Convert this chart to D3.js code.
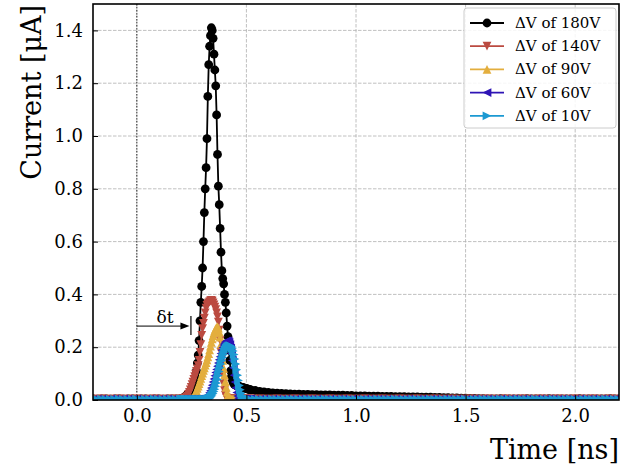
<!DOCTYPE html>
<html>
<head>
<meta charset="utf-8">
<script src="https://cdn.jsdelivr.net/npm/d3@7"></script>
<style>
body { margin: 0; background: #fff; }
text { font-family: "DejaVu Serif", serif; fill: #000; }
</style>
</head>
<body>
<div id="chart"></div>
<script>
// sample times [ns]: coarse baseline, fine around the pulse, coarse tail
var timeNs = [-0.20,-0.18,-0.16,-0.14,-0.12,-0.10,-0.08,-0.06,-0.04,-0.02,
	0.00,0.02,0.04,0.06,0.08,0.10,0.12,0.14,0.16,0.18,
	0.200,0.204,0.208,0.212,0.216,0.220,0.224,0.228,0.232,0.236,
	0.240,0.244,0.248,0.252,0.256,0.260,0.264,0.268,0.272,0.276,
	0.280,0.284,0.288,0.292,0.296,0.300,0.304,0.308,0.312,0.316,
	0.320,0.324,0.328,0.332,0.336,0.340,0.344,0.348,0.352,0.356,
	0.360,0.364,0.368,0.372,0.376,0.380,0.384,0.388,0.392,0.396,
	0.400,0.404,0.408,0.412,0.416,0.420,0.424,0.428,0.432,0.436,
	0.440,0.444,0.448,0.452,0.456,0.460,0.464,0.468,0.472,0.476,
	0.480,0.484,0.488,0.492,0.496,0.500,0.504,0.508,0.512,0.516,
	0.520,
	0.54,0.56,0.58,0.60,0.62,0.64,0.66,0.68,0.70,0.72,
	0.74,0.76,0.78,0.80,0.82,0.84,0.86,0.88,0.90,0.92,
	0.94,0.96,0.98,1.00,1.02,1.04,1.06,1.08,1.10,1.12,
	1.14,1.16,1.18,1.20,1.22,1.24,1.26,1.28,1.30,1.32,
	1.34,1.36,1.38,1.40,1.42,1.44,1.46,1.48,1.50,1.52,
	1.54,1.56,1.58,1.60,1.62,1.64,1.66,1.68,1.70,1.72,
	1.74,1.76,1.78,1.80,1.82,1.84,1.86,1.88,1.90,1.92,
	1.94,1.96,1.98,2.00,2.02,2.04,2.06,2.08,2.10,2.12,
	2.14,2.16,2.18,2.20];

// current [uA] for each bias
var i180 = [0.004,0.003,0.004,0.004,0.003,0.004,0.004,0.003,0.004,0.004,
	0.003,0.004,0.004,0.003,0.004,0.004,0.003,0.004,0.004,0.004,
	0.004,0.005,0.006,0.008,0.010,0.012,0.015,0.018,0.022,0.026,
	0.030,0.034,0.038,0.045,0.052,0.060,0.070,0.085,0.110,0.140,
	0.170,0.225,0.300,0.370,0.430,0.50,0.60,0.71,0.80,0.88,
	0.99,1.15,1.27,1.34,1.38,1.41,1.40,1.37,1.31,1.25,
	1.19,1.08,0.93,0.81,0.74,0.65,0.56,0.49,0.46,0.44,
	0.40,0.37,0.33,0.28,0.24,0.19,0.15,0.11,0.090,0.075,
	0.066,0.060,0.057,0.055,0.054,0.053,0.052,0.051,0.050,0.049,
	0.048,0.047,0.046,0.045,0.044,0.043,0.042,0.041,0.040,0.039,
	0.038,
	0.036,0.033,0.031,0.029,0.027,0.026,0.025,0.024,0.023,0.022,
	0.022,0.021,0.021,0.020,0.020,0.019,0.019,0.019,0.018,0.018,
	0.018,0.017,0.017,0.016,0.016,0.016,0.015,0.015,0.015,0.014,
	0.014,0.014,0.013,0.013,0.013,0.012,0.012,0.012,0.011,0.011,
	0.011,0.010,0.010,0.009,0.009,0.008,0.008,0.007,0.007,0.006,
	0.006,0.005,0.005,0.004,0.004,0.004,0.005,0.004,0.004,0.004,
	0.004,0.004,0.005,0.004,0.004,0.004,0.004,0.005,0.004,0.004,
	0.004,0.004,0.004,0.004,0.005,0.004,0.004,0.004,0.004,0.004,
	0.004,0.005,0.004,0.004];

var i140 = [0.003,0.003,0.004,0.003,0.003,0.003,0.004,0.003,0.003,0.003,
	0.004,0.003,0.003,0.003,0.004,0.003,0.003,0.003,0.004,0.003,
	0.003,0.003,0.004,0.004,0.005,0.006,0.008,0.011,0.015,0.021,
	0.029,0.038,0.048,0.058,0.068,0.078,0.088,0.098,0.108,0.118,
	0.130,0.150,0.180,0.210,0.245,0.270,0.290,0.310,0.330,0.348,
	0.358,0.363,0.368,0.372,0.375,0.377,0.374,0.368,0.360,0.352,
	0.342,0.330,0.315,0.295,0.265,0.225,0.180,0.135,0.095,0.060,
	0.035,0.018,0.009,0.005,0.004,0.003,0.003,0.003,0.003,0.003,
	0.003,0.003,0.004,0.003,0.003,0.003,0.003,0.004,0.003,0.003,
	0.003,0.003,0.003,0.004,0.003,0.003,0.003,0.003,0.004,0.003,
	0.003,
	0.003,0.004,0.003,0.003,0.003,0.004,0.003,0.003,0.003,0.004,
	0.003,0.003,0.003,0.004,0.003,0.003,0.003,0.004,0.003,0.003,
	0.003,0.004,0.003,0.003,0.003,0.004,0.003,0.003,0.003,0.004,
	0.003,0.003,0.003,0.004,0.003,0.003,0.003,0.004,0.003,0.003,
	0.003,0.004,0.003,0.003,0.003,0.004,0.003,0.003,0.003,0.004,
	0.003,0.003,0.003,0.004,0.003,0.003,0.003,0.004,0.003,0.003,
	0.003,0.004,0.003,0.003,0.003,0.004,0.003,0.003,0.003,0.004,
	0.003,0.003,0.003,0.004,0.003,0.003,0.003,0.004,0.003,0.003,
	0.003,0.004,0.003,0.003];

var i90 = [0.003,0.003,0.003,0.004,0.003,0.003,0.003,0.003,0.004,0.003,
	0.003,0.003,0.003,0.004,0.003,0.003,0.003,0.003,0.004,0.003,
	0.003,0.003,0.003,0.003,0.003,0.003,0.003,0.003,0.003,0.003,
	0.003,0.004,0.005,0.007,0.010,0.014,0.020,0.027,0.035,0.044,
	0.053,0.062,0.072,0.082,0.092,0.102,0.112,0.122,0.132,0.142,
	0.152,0.163,0.176,0.190,0.204,0.218,0.232,0.244,0.254,0.263,
	0.270,0.275,0.277,0.272,0.258,0.238,0.212,0.182,0.150,0.120,
	0.094,0.070,0.048,0.030,0.017,0.009,0.005,0.003,0.003,0.003,
	0.003,0.003,0.003,0.004,0.003,0.003,0.003,0.003,0.004,0.003,
	0.003,0.003,0.003,0.003,0.004,0.003,0.003,0.003,0.003,0.004,
	0.003,
	0.003,0.003,0.004,0.003,0.003,0.003,0.003,0.004,0.003,0.003,
	0.003,0.003,0.004,0.003,0.003,0.003,0.003,0.004,0.003,0.003,
	0.003,0.003,0.004,0.003,0.003,0.003,0.003,0.004,0.003,0.003,
	0.003,0.003,0.004,0.003,0.003,0.003,0.003,0.004,0.003,0.003,
	0.003,0.003,0.004,0.003,0.003,0.003,0.003,0.004,0.003,0.003,
	0.003,0.003,0.004,0.003,0.003,0.003,0.003,0.004,0.003,0.003,
	0.003,0.003,0.004,0.003,0.003,0.003,0.003,0.004,0.003,0.003,
	0.003,0.003,0.004,0.003,0.003,0.003,0.003,0.004,0.003,0.003,
	0.003,0.003,0.004,0.003];

var i60 = [0.002,0.003,0.003,0.002,0.003,0.003,0.002,0.003,0.003,0.002,
	0.003,0.003,0.002,0.003,0.003,0.002,0.003,0.003,0.002,0.003,
	0.003,0.003,0.002,0.003,0.003,0.003,0.002,0.003,0.003,0.003,
	0.002,0.003,0.003,0.003,0.002,0.003,0.003,0.003,0.002,0.003,
	0.003,0.003,0.003,0.003,0.003,0.003,0.004,0.005,0.006,0.008,
	0.011,0.015,0.020,0.027,0.035,0.045,0.056,0.068,0.080,0.092,
	0.104,0.116,0.128,0.140,0.152,0.164,0.176,0.188,0.199,0.208,
	0.215,0.220,0.223,0.224,0.223,0.219,0.210,0.196,0.176,0.150,
	0.122,0.094,0.068,0.046,0.028,0.015,0.007,0.004,0.003,0.003,
	0.002,0.003,0.003,0.003,0.002,0.003,0.003,0.003,0.002,0.003,
	0.003,
	0.002,0.003,0.003,0.002,0.003,0.003,0.002,0.003,0.003,0.002,
	0.003,0.003,0.002,0.003,0.003,0.002,0.003,0.003,0.002,0.003,
	0.003,0.002,0.003,0.003,0.002,0.003,0.003,0.002,0.003,0.003,
	0.002,0.003,0.003,0.002,0.003,0.003,0.002,0.003,0.003,0.002,
	0.003,0.003,0.002,0.003,0.003,0.002,0.003,0.003,0.002,0.003,
	0.003,0.002,0.003,0.003,0.002,0.003,0.003,0.002,0.003,0.003,
	0.002,0.003,0.003,0.002,0.003,0.003,0.002,0.003,0.003,0.002,
	0.003,0.003,0.002,0.003,0.003,0.002,0.003,0.003,0.002,0.003,
	0.003,0.002,0.003,0.003];

var i10 = [0.002,0.002,0.003,0.002,0.002,0.002,0.003,0.002,0.002,0.002,
	0.003,0.002,0.002,0.002,0.003,0.002,0.002,0.002,0.003,0.002,
	0.002,0.002,0.003,0.002,0.002,0.002,0.003,0.002,0.002,0.002,
	0.003,0.002,0.002,0.002,0.003,0.002,0.002,0.002,0.003,0.002,
	0.002,0.002,0.003,0.002,0.002,0.002,0.003,0.002,0.002,0.002,
	0.003,0.004,0.005,0.007,0.010,0.014,0.019,0.025,0.032,0.041,
	0.052,0.064,0.078,0.093,0.108,0.122,0.136,0.149,0.161,0.172,
	0.182,0.190,0.196,0.200,0.203,0.205,0.206,0.205,0.202,0.196,
	0.186,0.172,0.155,0.136,0.115,0.094,0.074,0.055,0.039,0.026,
	0.016,0.009,0.005,0.003,0.003,0.002,0.002,0.003,0.002,0.002,
	0.002,
	0.003,0.002,0.002,0.002,0.003,0.002,0.002,0.002,0.003,0.002,
	0.002,0.002,0.003,0.002,0.002,0.002,0.003,0.002,0.002,0.002,
	0.003,0.002,0.002,0.002,0.003,0.002,0.002,0.002,0.003,0.002,
	0.002,0.002,0.003,0.002,0.002,0.002,0.003,0.002,0.002,0.002,
	0.003,0.002,0.002,0.002,0.003,0.002,0.002,0.002,0.003,0.002,
	0.002,0.002,0.003,0.002,0.002,0.002,0.003,0.002,0.002,0.002,
	0.003,0.002,0.002,0.002,0.003,0.002,0.002,0.002,0.003,0.002,
	0.002,0.002,0.003,0.002,0.002,0.002,0.003,0.002,0.002,0.002,
	0.003,0.002,0.002,0.002];

var seriesNames = ['ΔV of 180V', 'ΔV of 140V', 'ΔV of 90V', 'ΔV of 60V', 'ΔV of 10V'];
var seriesColors = ['#000000', '#bb4a40', '#e3ae3e', '#2e14b5', '#1b99d2'];
var seriesMarkers = ['circle', 'down', 'up', 'left', 'right'];
var seriesValues = [i180, i140, i90, i60, i10];

var xTicks = [0, 0.5, 1.0, 1.5, 2.0];
var yTicks = [0, 0.2, 0.4, 0.6, 0.8, 1.0, 1.2, 1.4];

// delta t annotation
var deltaT = 0.24, arrowLevel = 0.28;

var w = 643, h = 468;
var m = {left: 93, right: 619, top: 4, bottom: 400};

var x = d3.scaleLinear().domain([-0.2, 2.2]).range([m.left, m.right]);
var y = d3.scaleLinear().domain([0, 1.5]).range([m.bottom, m.top]);

var svg = d3.select('#chart').append('svg')
	.attr('width', w)
	.attr('height', h);

svg.append('defs').append('clipPath')
	.attr('id', 'plotclip')
	.append('rect')
		.attr('x', m.left).attr('y', m.top)
		.attr('width', m.right - m.left).attr('height', m.bottom - m.top);

// grid
var grid = svg.append('g').attr('class', 'grid');
grid.selectAll('line.gx')
	.data(xTicks)
	.enter().append('line')
		.attr('class', 'gx')
		.attr('x1', d => x(d)).attr('x2', d => x(d))
		.attr('y1', m.top).attr('y2', m.bottom)
		.attr('stroke', '#b0b0b0').attr('stroke-width', 0.8)
		.attr('stroke-dasharray', '3.5,1.5');
grid.selectAll('line.gy')
	.data(yTicks.slice(1))
	.enter().append('line')
		.attr('class', 'gy')
		.attr('x1', m.left).attr('x2', m.right)
		.attr('y1', d => y(d)).attr('y2', d => y(d))
		.attr('stroke', '#b0b0b0').attr('stroke-width', 0.8)
		.attr('stroke-dasharray', '3.5,1.5');

// t = 0 marker line
svg.append('line')
	.attr('x1', x(0)).attr('x2', x(0))
	.attr('y1', m.top).attr('y2', m.bottom)
	.attr('stroke', '#000').attr('stroke-width', 0.8)
	.attr('stroke-dasharray', '1.5,1.5');

function markerPath(type, s) {
	if (type == 'down') return 'M0,' + s + 'L' + (-s) + ',' + (-s) + 'L' + s + ',' + (-s) + 'Z';
	if (type == 'up') return 'M0,' + (-s) + 'L' + (-s) + ',' + s + 'L' + s + ',' + s + 'Z';
	if (type == 'left') return 'M' + (-s) + ',0L' + s + ',' + (-s) + 'L' + s + ',' + s + 'Z';
	if (type == 'right') return 'M' + s + ',0L' + (-s) + ',' + (-s) + 'L' + (-s) + ',' + s + 'Z';
	return d3.symbol(d3.symbolCircle, Math.PI * s * s)();
}

var line = d3.line()
	.x(d => x(d.t))
	.y(d => y(d.v));

var plot = svg.append('g').attr('clip-path', 'url(#plotclip)');

seriesValues.forEach(function(vals, i) {
	var pts = timeNs.map((t, j) => ({t: t, v: vals[j]}));
	var g = plot.append('g').attr('class', 'series');
	g.append('path')
		.attr('d', line(pts))
		.attr('fill', 'none')
		.attr('stroke', seriesColors[i])
		.attr('stroke-width', 1.8);
	g.selectAll('path.pt')
		.data(pts)
		.enter().append('path')
			.attr('class', 'pt')
			.attr('transform', d => 'translate(' + x(d.t) + ',' + y(d.v) + ')')
			.attr('d', markerPath(seriesMarkers[i], i == 0 ? 4.4 : 4.4))
			.attr('fill', seriesColors[i]);
});

// delta t arrow
var ann = svg.append('g');
ann.append('line')
	.attr('x1', x(0)).attr('x2', x(deltaT) - 7)
	.attr('y1', y(arrowLevel)).attr('y2', y(arrowLevel))
	.attr('stroke', '#000').attr('stroke-width', 1);
ann.append('path')
	.attr('d', 'M' + x(deltaT) + ',' + y(arrowLevel) + 'l-9,-3.5l0,7z')
	.attr('fill', '#000');
ann.append('line')
	.attr('x1', x(deltaT) + 1.5).attr('x2', x(deltaT) + 1.5)
	.attr('y1', y(arrowLevel) - 10).attr('y2', y(arrowLevel) + 9)
	.attr('stroke', '#000').attr('stroke-width', 1.2);
ann.append('text')
	.attr('x', x(deltaT / 2) + 2)
	.attr('y', y(arrowLevel) - 3)
	.attr('text-anchor', 'middle')
	.style('font-size', '17px')
	.text('δt');

// axes
var xAxis = d3.axisBottom(x).tickValues(xTicks).tickFormat(d3.format('.1f'))
	.tickSizeInner(-5).tickSizeOuter(0).tickPadding(9);
var yAxis = d3.axisLeft(y).tickValues(yTicks).tickFormat(d3.format('.1f'))
	.tickSizeInner(-5).tickSizeOuter(0).tickPadding(10);

var gx = svg.append('g')
	.attr('class', 'x axis')
	.attr('transform', 'translate(0,' + m.bottom + ')')
	.call(xAxis);
var gy = svg.append('g')
	.attr('class', 'y axis')
	.attr('transform', 'translate(' + m.left + ',0)')
	.call(yAxis);

[gx, gy].forEach(function(g) {
	g.select('.domain').remove();
	g.selectAll('.tick line').attr('stroke', '#000').attr('stroke-width', 1);
	g.selectAll('.tick text').style('font-size', '18px').attr('fill', '#000');
});

// frame
svg.append('rect')
	.attr('x', m.left).attr('y', m.top)
	.attr('width', m.right - m.left).attr('height', m.bottom - m.top)
	.attr('fill', 'none')
	.attr('stroke', '#000')
	.attr('stroke-width', 1.6);

// axis titles
svg.append('text')
	.attr('x', m.right).attr('y', 459)
	.attr('text-anchor', 'end')
	.style('font-size', '27px')
	.text('Time [ns]');
svg.append('text')
	.attr('transform', 'translate(41,' + (m.top + 1) + ') rotate(-90)')
	.attr('text-anchor', 'end')
	.style('font-size', '27px')
	.text('Current [μA]');

// legend
var lg = svg.append('g').attr('transform', 'translate(464,8)');
lg.append('rect')
	.attr('width', 152).attr('height', 120)
	.attr('rx', 3)
	.attr('fill', '#fff').attr('fill-opacity', 0.85)
	.attr('stroke', '#cccccc').attr('stroke-width', 1);
seriesNames.forEach(function(name, i) {
	var ly = 15 + i * 23.2;
	lg.append('line')
		.attr('x1', 6).attr('x2', 40)
		.attr('y1', ly).attr('y2', ly)
		.attr('stroke', seriesColors[i]).attr('stroke-width', 1.8);
	lg.append('path')
		.attr('transform', 'translate(23,' + ly + ')')
		.attr('d', markerPath(seriesMarkers[i], 4.4))
		.attr('fill', seriesColors[i]);
	lg.append('text')
		.attr('x', 51).attr('y', ly + 5)
		.style('font-size', '15px')
		.text(name);
});
</script>
</body>
</html>
